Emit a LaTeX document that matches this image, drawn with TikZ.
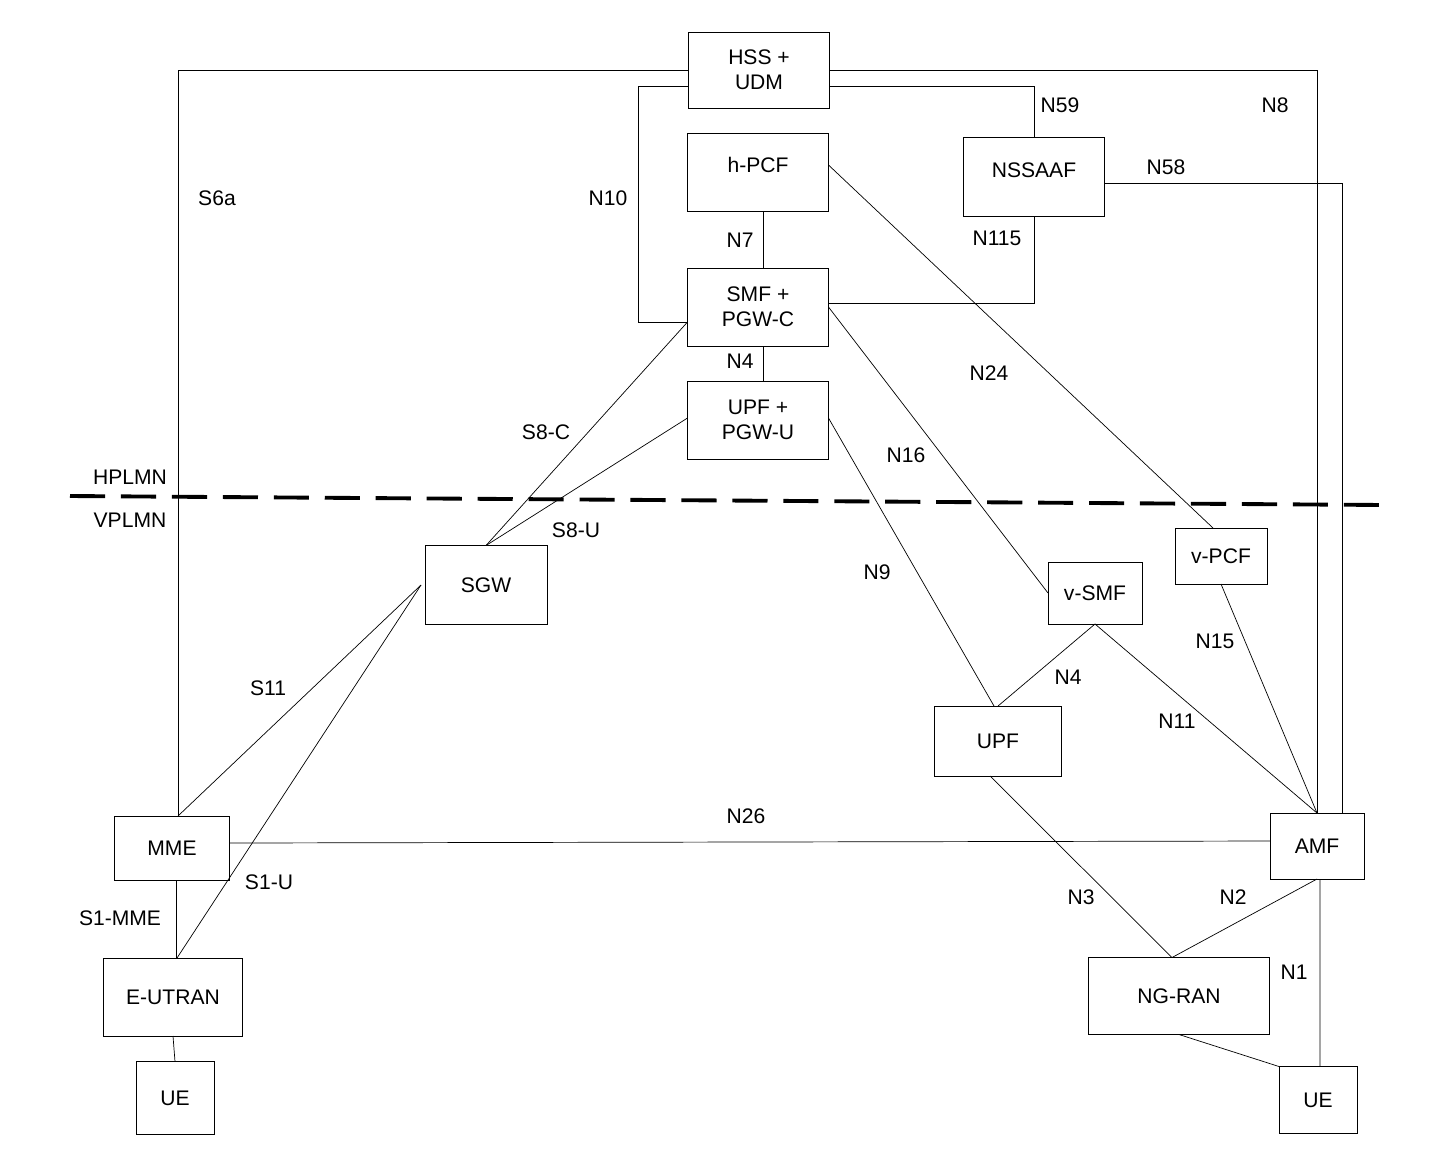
\documentclass[tikz,border=0pt]{standalone}
\usepackage{fontspec}
\setmainfont{Liberation Sans}
\usepackage{tikz}

\begin{document}
\begin{tikzpicture}[x=0.02cm,y=-0.02cm,
  every node/.style={font=\fontsize{12}{14}\selectfont, outer sep=0pt},
  box/.style={draw, thin, align=center, inner sep=0pt},
  lbl/.style={inner sep=0pt}]
\useasboundingbox (0,0) rectangle (1436,1154);

\node[box, minimum width=2.82cm, minimum height=1.52cm] (hss) at (759,70) {HSS +\\UDM};
\node[box, minimum width=2.82cm, minimum height=1.56cm] (hpcf) at (758,172) {\raisebox{4pt}[\height][\depth]{h-PCF}};
\node[box, minimum width=2.82cm, minimum height=1.58cm] (nssaaf) at (1034,177) {\raisebox{4pt}[\height][\depth]{NSSAAF}};
\node[box, minimum width=2.82cm, minimum height=1.56cm] (smf) at (758,307) {SMF +\\PGW-C};
\node[box, minimum width=2.82cm, minimum height=1.56cm] (upfh) at (758,420) {UPF +\\PGW-U};
\node[box, minimum width=2.44cm, minimum height=1.58cm] (sgw) at (486,585) {SGW};
\node[box, minimum width=1.84cm, minimum height=1.12cm] (vpcf) at (1221,556) {v-PCF};
\node[box, minimum width=1.88cm, minimum height=1.24cm] (vsmf) at (1095,593) {v-SMF};
\node[box, minimum width=2.54cm, minimum height=1.40cm] (upf) at (998,741) {UPF};
\node[box, minimum width=2.30cm, minimum height=1.28cm] (mme) at (172,848) {MME};
\node[box, minimum width=1.88cm, minimum height=1.32cm] (amf) at (1317,846) {AMF};
\node[box, minimum width=2.78cm, minimum height=1.56cm] (eutran) at (173,997) {E-UTRAN};
\node[box, minimum width=3.62cm, minimum height=1.54cm] (ngran) at (1179,996) {NG-RAN};
\node[box, minimum width=1.56cm, minimum height=1.46cm] (uel) at (175,1098) {UE};
\node[box, minimum width=1.56cm, minimum height=1.34cm] (uer) at (1318,1100) {UE};

% home network links
\draw ([xshift=0.12cm]mme.north) |- (hss.west);
\draw (hss.east) -| (amf.north);
\draw ([yshift=-0.32cm]hss.west) -- ++(-1cm,0) |- ([yshift=-0.3cm]smf.west);
\draw ([yshift=-0.32cm]hss.east) -| (nssaaf.north);
\draw ([yshift=-0.12cm]nssaaf.east) -| ([xshift=0.5cm]amf.north);
\draw (nssaaf.south) |- ([yshift=0.08cm]smf.east);
\draw ([xshift=0.1cm]hpcf.south) -- ([xshift=0.1cm]smf.north);
\draw[very thin] ([xshift=0.1cm]smf.south) -- ([xshift=0.1cm]upfh.north);
\draw ([yshift=0.14cm]hpcf.east) -- ([xshift=-0.16cm]vpcf.north);
\draw ([yshift=-0.3cm]smf.west) -- (sgw.north);
\draw ([yshift=0.04cm]upfh.west) -- (sgw.north);
\draw (smf.east) -- (vsmf.west);
\draw ([yshift=0.04cm]upfh.east) -- ([xshift=-0.08cm]upf.north);

% visited network links
\draw (vsmf.south) -- (upf.north);
\draw (vsmf.south) -- (amf.north);
\draw (vpcf.south) -- (amf.north);
\draw ([xshift=-0.08cm]sgw.west) -- ([xshift=0.12cm]mme.north);
\draw ([xshift=-0.08cm]sgw.west) -- ([xshift=0.08cm]eutran.north);
\draw ([yshift=0.1cm]mme.east) -- ([yshift=0.1cm]amf.west);
\draw ([xshift=0.08cm]mme.south) -- ([xshift=0.06cm]eutran.north);
\draw (eutran.south) -- (uel.north);
\draw ([xshift=-0.16cm]upf.south) -- ([xshift=-0.14cm]ngran.north);
\draw ([xshift=-0.14cm]ngran.north) -- (amf.south);
\draw ([xshift=0.06cm]amf.south) -- ([xshift=0.04cm]uer.north);
\draw (ngran.south) -- (uer.north west);

% border between networks
\draw[line width=2.2pt, dash pattern=on 20pt off 9pt] (70,496) -- (1385,505);

\node[lbl] at (130,477) {HPLMN};
\node[lbl] at (130,520) {VPLMN};
\node[lbl] at (217,198) {S6a};
\node[lbl] at (608,198) {N10};
\node[lbl] at (740,240) {N7};
\node[lbl] at (740,361) {N4};
\node[lbl] at (1060,105) {N59};
\node[lbl] at (1275,105) {N8};
\node[lbl] at (1166,167) {N58};
\node[lbl] at (997,238) {N115};
\node[lbl] at (989,373) {N24};
\node[lbl] at (546,432) {S8-C};
\node[lbl] at (906,455) {N16};
\node[lbl] at (576,530) {S8-U};
\node[lbl] at (877,572) {N9};
\node[lbl] at (1215,641) {N15};
\node[lbl] at (1068,677) {N4};
\node[lbl] at (1177,721) {N11};
\node[lbl] at (268,688) {S11};
\node[lbl] at (746,816) {N26};
\node[lbl] at (269,882) {S1-U};
\node[lbl] at (120,918) {S1-MME};
\node[lbl] at (1081,897) {N3};
\node[lbl] at (1233,897) {N2};
\node[lbl] at (1294,972) {N1};
\end{tikzpicture}
\end{document}
